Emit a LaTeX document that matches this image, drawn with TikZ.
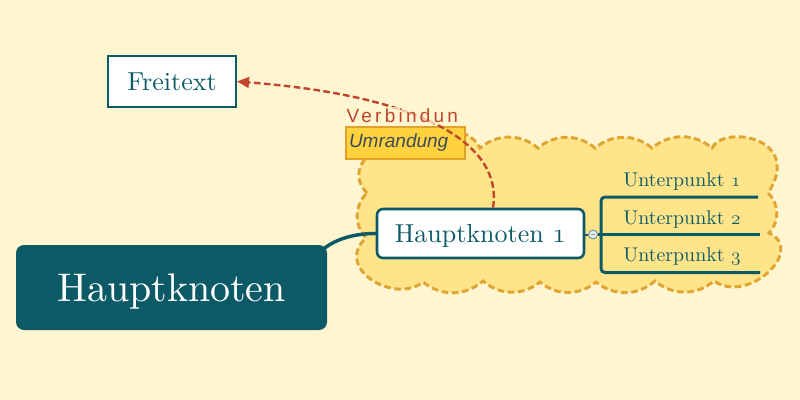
\documentclass[tikz,border=0pt]{standalone}
\usepackage{fontspec}
\setmainfont{lmroman10-regular.otf}
\newfontfamily\lsans{Liberation Sans}
\newfontfamily\lsansls[LetterSpace=17]{Liberation Sans}
\usetikzlibrary{arrows.meta}
\newcommand\osn[1]{{\usefont{OML}{lmm}{m}{it}#1}}
\definecolor{bgc}{HTML}{FFF6D1}
\definecolor{cloudf}{HTML}{FFE48A}
\definecolor{cloudd}{HTML}{E0A433}
\definecolor{mteal}{HTML}{0B5A66}
\definecolor{linkred}{HTML}{C0452B}
\definecolor{umf}{HTML}{FFD23E}
\definecolor{umd}{HTML}{E0A22B}
\definecolor{umt}{HTML}{3C4A5C}
\definecolor{togf}{HTML}{E6ECF5}
\tikzset{
  cloudline/.style={draw=cloudd, fill=cloudf, line width=2.2pt, dash pattern=on 5pt off 2.7pt},
  boxw/.style={draw=mteal, line width=1.5pt, fill=white, text=mteal, inner sep=0pt, text depth=0pt},
  branch/.style={draw=mteal, line width=2.25pt},
  sub/.style={text=mteal, inner sep=0pt, font=\fontsize{14.9}{17}\selectfont},
  linkline/.style={draw=linkred, line width=1.8pt, dash pattern=on 5pt off 2.5pt, -{Triangle[length=9pt,width=8pt]}}
}
\begin{document}
\begin{tikzpicture}[x=0.75pt, y=-0.75pt]
\useasboundingbox (0,0) rectangle (800,400);
\fill[bgc] (0,0) rectangle (800,400);
% cloud (Umrandung)
\coordinate (L1) at (367,193);
\coordinate (T1) at (480,148);
\coordinate (T2) at (538,148);
\coordinate (T3) at (595,148);
\coordinate (T4) at (652,148);
\coordinate (T5) at (712,148);
\coordinate (R1) at (768,193);
\coordinate (R2) at (769,233);
\coordinate (B1) at (714,281);
\coordinate (B2) at (655,281);
\coordinate (B3) at (596,282);
\coordinate (B4) at (540,282);
\coordinate (B5) at (483,281);
\coordinate (B6) at (423,282);
\coordinate (L2) at (366,238);
\path[cloudline] (L1) .. controls (325,150) and (455,100) .. (T1)
  to[bend left=40] (T2) to[bend left=40] (T3) to[bend left=40] (T4) to[bend left=40] (T5)
  .. controls (724,124) and (804,138) .. (R1)
  to[bend left=45] (R2)
  .. controls (806,250) and (748,305) .. (B1)
  to[bend left=40] (B2) to[bend left=40] (B3) to[bend left=40] (B4) to[bend left=40] (B5) to[bend left=40] (B6)
  .. controls (395,305) and (333,268) .. (L2)
  to[bend left=45] (L1) -- cycle;
% Umrandung label
\node[draw=umd, line width=1.5pt, fill=umf, text=umt, font=\lsans\itshape\fontsize{14.25}{16}\selectfont,
  minimum height=24pt, text width=84.75pt, inner xsep=2.25pt, inner ysep=0pt, align=left] (um) at (405.5,143) {Umrandung};
% main node
\node[fill=mteal, text=white, rounded corners=6pt, minimum width=233.25pt, minimum height=63.75pt, inner sep=0pt,
  text depth=0pt, font=\fontsize{30}{34}\selectfont] (main) at (171.5,287.5) {Hauptknoten};
% Hauptknoten 1
\node[boxw, line width=1.9pt, rounded corners=4.5pt, minimum width=155.25pt, minimum height=36.75pt,
  font=\fontsize{19.5}{23}\selectfont] (h1) at (480.5,233.5) {Hauptknoten \osn{1}};
\draw[mteal, line width=2.6pt, line cap=round] ([xshift=-2pt,yshift=-2.5pt]main.north east) .. controls +(12,-9) and +(-22,0) .. (h1.west);
% toggle and branches
\node[circle, draw=mteal!70, line width=0.6pt, fill=togf, minimum size=6.75pt, inner sep=0pt] (tog) at (593,234.5) {};
\draw[mteal, line width=1.5pt] (h1.east |- tog) -- (tog.west);
\draw[gray!80, line width=0.6pt] ([xshift=-1.8pt]tog.center) -- ([xshift=1.8pt]tog.center);
\coordinate (bt) at (601,197);
\coordinate (bb) at (601,272.5);
\coordinate (e1) at (758,197);
\coordinate (e2) at (760,234.5);
\coordinate (e3) at (760,272.5);
\draw[branch, rounded corners=3pt] (e1) -- (bt) -- (bb) -- (e3);
\draw[branch] (tog.east) -- (e2);
\node[sub, anchor=base] (u1) at (682,186) {Unterpunkt \osn{1}};
\node[sub, anchor=base] (u2) at (682,224) {Unterpunkt \osn{2}};
\node[sub, anchor=base] (u3) at (682,261.5) {Unterpunkt \osn{3}};
% Freitext
\node[boxw, minimum width=96pt, minimum height=38.25pt, font=\fontsize{19.5}{23}\selectfont] (ft) at (172,81.5) {Freitext};
% link
\draw[linkline] ([xshift=9.4pt]h1.north) .. controls (503,145) and (425,96) .. (ft.east);
\node[anchor=base west, inner sep=1pt, fill=bgc, fill opacity=0.75, text opacity=1, text=linkred,
  font=\lsansls\fontsize{14.25}{16}\selectfont] (vb) at (345,122.3) {Verbindun};
\end{tikzpicture}
\end{document}
